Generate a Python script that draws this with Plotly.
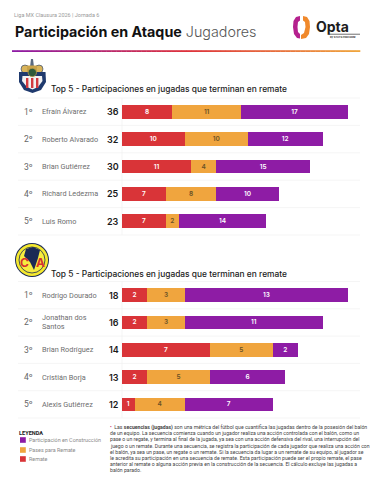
import plotly.graph_objects as go

W, H = 375, 498
SERIES = ["Remate", "Pases para Remate", "Participación en Construcción"]
COLORS = ["#D93438", "#F0A53E", "#8E1CA5"]
TEXT_COLORS = ["#FFFFFF", "#6B5226", "#FFFFFF"]
RANKS = ["1º", "2º", "3º", "4º", "5º"]

chivas_names = ["Efraín Álvarez", "Roberto Alvarado", "Brian Gutiérrez", "Richard Ledezma", "Luis Romo"]
chivas_totals = [36, 32, 30, 25, 23]
chivas_remate = [8, 10, 11, 7, 7]
chivas_pases = [11, 10, 4, 8, 2]
chivas_constr = [17, 12, 15, 10, 14]

america_names = ["Rodrigo Dourado", "Jonathan dos<br>Santos", "Brian Rodríguez", "Cristián Borja", "Alexis Gutiérrez"]
america_totals = [18, 16, 14, 13, 12]
america_remate = [2, 2, 7, 2, 1]
america_pases = [3, 3, 5, 5, 4]
america_constr = [13, 11, 2, 6, 7]

SUPTITLE = "Liga MX Clausura 2026 | Jornada 6"
SUBTITLE = "Top 5 - Participaciones en jugadas que terminan en remate"
FOOTNOTE = [
    "<span style='color:#C2185B'>•</span>  Las <b>secuencias (jugadas)</b> son una métrica del fútbol que cuantifica las jugadas dentro de la posesión del balón",
    "de un equipo. La secuencia comienza cuando un jugador realiza una acción controlada con el balón, como un",
    "pase o un regate, y termina al final de la jugada, ya sea con una acción defensiva del rival, una interrupción del",
    "juego o un remate. Durante una secuencia, se registra la participación de cada jugador que realiza una acción con",
    "el balón, ya sea un pase, un regate o un remate. Si la secuencia da lugar a un remate de su equipo, al jugador se",
    "le acredita su participación en una secuencia de remate. Esta participación puede ser el propio remate, el pase",
    "anterior al remate o alguna acción previa en la construcción de la secuencia. El cálculo excluye las jugadas a",
    "balón parado.",
]

HEAD = "Inter"
BODY = "Roboto"


def px(x):
    return x / W


def py(y):
    return 1 - y / H


fig = go.Figure()
shapes = []
ann = []


def text(x, y, s, size, color="#222", anchor="left", family=BODY, ref=None, weight=None):
    font = dict(size=size, color=color, family=family)
    if weight:
        font["weight"] = weight
    ann.append(dict(
        x=px(x), y=py(y) if ref is None else y, xref="paper", yref=ref or "paper",
        text=s, showarrow=False, xanchor=anchor, yanchor="middle", align="left",
        font=font, borderpad=0, borderwidth=0,
    ))


def rect(x0, y0, x1, y1, fill, line=None):
    shapes.append(dict(type="rect", xref="paper", yref="paper", x0=px(x0), x1=px(x1),
                       y0=py(y0), y1=py(y1), fillcolor=fill,
                       line=dict(width=0 if line is None else 0.6, color=line or fill)))


def circle(cx, cy, r, fill, line=None, lw=0):
    shapes.append(dict(type="circle", xref="paper", yref="paper", x0=px(cx - r), x1=px(cx + r),
                       y0=py(cy - r), y1=py(cy + r), fillcolor=fill,
                       line=dict(width=lw, color=line or fill)))


def poly(points, fill):
    d = "M" + " L".join(f"{px(x):.5f},{py(y):.5f}" for x, y in points) + " Z"
    shapes.append(dict(type="path", xref="paper", yref="paper", path=d, fillcolor=fill,
                       line=dict(width=0)))


panels = [
    ("x", "y", chivas_names, chivas_totals, [chivas_remate, chivas_pases, chivas_constr], 98, 235),
    ("x2", "y2", america_names, america_totals, [america_remate, america_pases, america_constr], 281.5, 418),
]

for xa, ya, names, totals, stacks, top, bottom in panels:
    for name, vals, col, tcol in zip(SERIES, stacks, COLORS, TEXT_COLORS):
        fig.add_trace(go.Bar(
            y=names, x=vals, name=name, orientation="h", xaxis=xa, yaxis=ya,
            marker=dict(color=col, line=dict(width=0)), width=0.5,
            text=vals, textposition="inside", insidetextanchor="middle", textangle=0,
            insidetextfont=dict(size=6.5, color=tcol, family=HEAD, weight=600),
            constraintext="none", showlegend=False, hoverinfo="skip",
        ))
    yref = ya
    for name, total, rank in zip(names, totals, RANKS):
        text(24, name, rank, 8.5, "#666", ref=yref)
        text(42, name, name, 7.3, "#6e6e6e", ref=yref)
        text(119, name, total, 9, "#1a1a1a", anchor="right", family=HEAD, ref=yref, weight=600)
    n = len(names)
    for i in range(n + 1):
        y = top + (bottom - top) * i / n
        shapes.append(dict(type="line", xref="paper", yref="paper", x0=px(18), x1=px(360),
                           y0=py(y), y1=py(y), line=dict(color="#F0F0F0", width=0.7), layer="below"))
    shapes.append(dict(type="line", xref="paper", yref="paper", x0=px(122), x1=px(122),
                       y0=py(top), y1=py(bottom), line=dict(color="#F0F0F0", width=0.7), layer="below"))

axis_off = dict(showgrid=False, zeroline=False, showticklabels=False, ticks="", showline=False, fixedrange=True)
fig.update_layout(
    width=W, height=H, margin=dict(l=0, r=0, t=0, b=0), barmode="stack", bargap=0.5,
    paper_bgcolor="white", plot_bgcolor="rgba(0,0,0,0)", showlegend=False,
    font=dict(family=BODY),
    xaxis=dict(domain=[px(122), px(348)], range=[0, chivas_totals[0]], anchor="y", **axis_off),
    yaxis=dict(domain=[py(235), py(98)], autorange="reversed", anchor="x", type="category", **axis_off),
    xaxis2=dict(domain=[px(122), px(348)], range=[0, america_totals[0]], anchor="y2", **axis_off),
    yaxis2=dict(domain=[py(418), py(281.5)], autorange="reversed", anchor="x2", type="category", **axis_off),
)

# header
text(14, 15, SUPTITLE, 5.5, "#9a9a9a")
text(14.5, 31, "<b>Participación en Ataque</b> <span style='color:#555;font-weight:300'>Jugadores</span>", 14.3, "#111", family=HEAD)

# gradient rule
stops = [(0, (142, 28, 165)), (0.5, (222, 50, 60)), (1, (240, 165, 60))]
steps = 70
for i in range(steps):
    t = i / (steps - 1)
    (a, ca), (b, cb) = (stops[0], stops[1]) if t < 0.5 else (stops[1], stops[2])
    u = (t - a) / (b - a)
    c = tuple(int(ca[k] + (cb[k] - ca[k]) * u) for k in range(3))
    rect(12 + 348 * i / steps, 50.2, 12 + 348 * (i + 1) / steps + 0.3, 52, f"rgb{c}")

# opta logo
poly([(300, 16), (296, 17), (293.5, 21), (293, 27), (294, 34), (297, 38), (300, 38.5), (300, 34),
      (298, 32), (297.5, 27), (298, 22), (300, 20.5)], "#B5218E")
poly([(303, 16), (307, 17), (309.5, 21), (310, 27), (309, 34), (306, 38), (301, 39), (301, 35),
      (304, 33), (305.5, 27), (305, 22), (303, 20.5)], "#F0892B")
text(316, 26.5, "<b>Opta</b>", 14, "#1d1d1d", family=HEAD)
rect(329, 33.8, 360, 34.5, "#333")
text(330, 36.6, "<b>by STATS PERFORM</b>", 2.6, "#333", family=HEAD)

# section subtitles
text(51, 89, SUBTITLE, 8.4, "#1a1a1a", family=HEAD, weight=500)
text(51, 274, SUBTITLE, 8.4, "#1a1a1a", family=HEAD, weight=500)

# chivas crest
poly([(31, 59), (33, 59), (34, 67), (30, 67)], "#5A6A80")
circle(25, 69, 4, "#D9B45A", "#1F3A6E", 0.6)
circle(39, 69, 4, "#D9B45A", "#1F3A6E", 0.6)
rect(27, 65.5, 37, 72, "#C9A24A")
poly([(19, 72), (45.5, 72), (46, 82), (41, 90), (32.5, 93), (24, 90), (19, 82)], "#1F3A6E")
poly([(22.5, 76), (42, 76), (42.5, 81), (38, 87), (32.5, 89.5), (27, 87), (22, 81)], "#F2F2F2")
for xs in (26, 31, 36):
    rect(xs, 78, xs + 2.4, 88, "#D33A3F")
circle(32.3, 72.5, 4.2, "#2F5A3A", "#C9A24A", 0.7)

# america crest
circle(32, 260, 17, "#1C2A55")
circle(32, 260, 16, "#F5E92F")
circle(32, 260, 13, "#F7EC3F", "#1C2A55", 0.8)
poly([(26, 249), (33, 247), (40, 250), (38, 258), (34, 270), (30, 262), (24, 256)], "#1C2A55")
text(19.5, 262, "<b>C</b>", 12, "#D6312F", family=HEAD)
text(36, 262, "<b>A</b>", 12, "#D6312F", family=HEAD)

# legend
text(18.5, 432.5, "<b>LEYENDA</b>", 5.6, "#222")
for y, lab, col in zip([440, 450, 459], SERIES[::-1], COLORS[::-1]):
    rect(20, y - 2.8, 25.8, y + 2.8, col)
    text(28.5, y, lab, 5.4, "#8a8a8a")

# footnote
for i, line in enumerate(FOOTNOTE):
    text(110, 427 + i * 6.2, line, 5.15, "#444")

fig.update_layout(shapes=shapes, annotations=ann)
fig.write_html("out.html", config=dict(displayModeBar=False, staticPlot=True),
               post_script="document.body.style.margin='0';document.body.style.overflow='hidden';")
